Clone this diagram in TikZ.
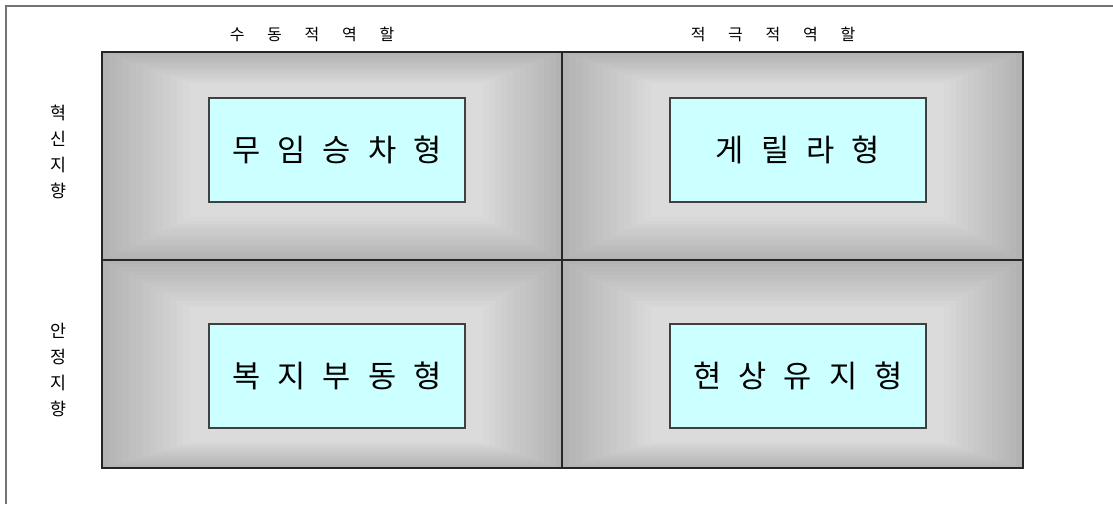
\documentclass[tikz,border=0pt]{standalone}
\usepackage{fontspec}
\usepackage{tikz}
\newfontfamily\kr{Noto Sans CJK KR}
\definecolor{boxcyan}{RGB}{204,255,255}
\newcommand\boxfont{\kr\fontsize{23pt}{25pt}\selectfont\spaceskip 0.56em\relax}
\newcommand\rolefont{\kr\fontsize{12pt}{14pt}\selectfont\spaceskip 1.42em\relax}

\begin{document}
\begin{tikzpicture}[x=0.75pt,y=-0.75pt,
    typebox/.style={draw=black!75,line width=0.8pt,fill=boxcyan,minimum width=192pt,
      minimum height=78pt,inner sep=0pt,font=\boxfont},
    rolelabel/.style={font=\rolefont,inner sep=0pt},
    sidelabel/.style={font=\kr\fontsize{13pt}{19.5pt}\selectfont,align=center,inner sep=0pt}]
  \useasboundingbox (0,0) rectangle (1113,504);
  \draw[black!55,line width=1.2pt] (6,504) -- (6,6) -- (1113,6);

  % shaded cells
  \foreach \cx/\cy/\bx/\by in {102/52/337/150,562/52/798/150,102/260/337/376,562/260/798/376}{
    \foreach \i in {0,...,13}{
      \pgfmathsetmacro\t{\i/14}
      \pgfmathsetmacro\shade{30-17*\t}
      \fill[black!\shade] ({\cx+\t*(\bx-140-\cx)},{\cy+\t*(\by-64-\cy)})
        rectangle ({\cx+460-\t*(\cx+460-\bx-140)},{\cy+208-\t*(\cy+208-\by-64)});
    }
  }
  \draw[black!85,line width=1.1pt] (102,52) rectangle (1023,468);
  \draw[black!85,line width=1.1pt] (562,52) -- (562,468);
  \draw[black!85,line width=1.1pt] (102,260) -- (1023,260);

  \node[typebox] (free) at (337,150) {무 임 승 차 형};
  \node[typebox] (guer) at (798,150) {게 릴 라 형};
  \node[typebox] (bure) at (337,376) {복 지 부 동 형};
  \node[typebox] (stat) at (798,376) {현 상 유 지 형};

  \node[rolelabel] (pass) at (312,34) {수 동 적 역 할};
  \node[rolelabel] (acti) at (773,34) {적 극 적 역 할};
  \node[sidelabel] (inno) at (58,152) {혁\\신\\지\\향};
  \node[sidelabel] (stab) at (58,370) {안\\정\\지\\향};
\end{tikzpicture}
\end{document}
